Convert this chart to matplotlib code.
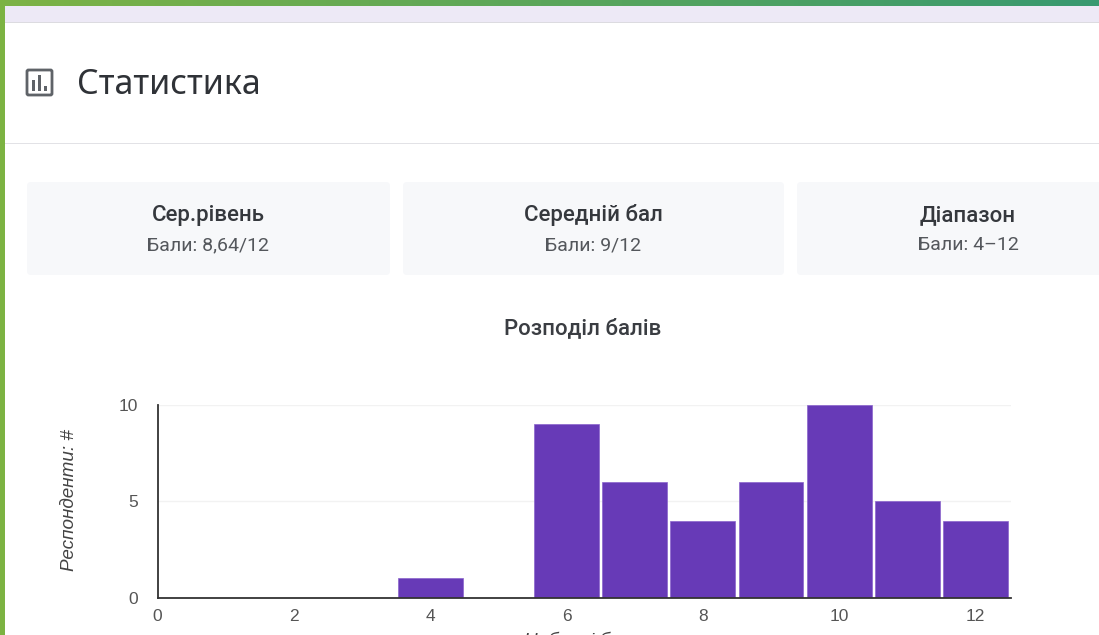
import matplotlib
matplotlib.use("Agg")
import matplotlib.pyplot as plt
from matplotlib.patches import FancyBboxPatch, Rectangle
import numpy as np

W, H = 1099, 635
scores = [4, 6, 7, 8, 9, 10, 11, 12]
counts = [1, 9, 6, 4, 6, 10, 5, 4]
x_ticks = [0, 2, 4, 6, 8, 10, 12]
y_ticks = [0, 5, 10]
page_title = "Статистика"
card_titles = ["Сер.рівень", "Середній бал", "Діапазон"]
card_values = ["Бали: 8,64/12", "Бали: 9/12", "Бали: 4–12"]
chart_title = "Розподіл балів"
y_label = "Респонденти: #"
x_label = "Набрані бали"

fig = plt.figure(figsize=(W/100, H/100), dpi=100, facecolor="white")
bg = fig.add_axes([0, 0, 1, 1])
bg.set_xlim(0, W); bg.set_ylim(H, 0); bg.axis("off")

# top gradient band and left border
grad = np.linspace(0, 1, 256)[None, :, None]
c0 = np.array([0.49, 0.70, 0.27]); c1 = np.array([0.22, 0.60, 0.44])
bg.imshow(c0 + (c1 - c0) * grad, extent=[0, W, 6, 0], aspect="auto", zorder=2)
bg.set_xlim(0, W); bg.set_ylim(H, 0)
bg.add_patch(Rectangle((0, 0), 5, H, color="#7cb342", lw=0, zorder=3))
bg.add_patch(Rectangle((5, 6), W, 16, color="#ede9f6", lw=0, zorder=1))
bg.add_patch(Rectangle((5, 22), W, 1.2, color="#dcdbe0", lw=0, zorder=1))
bg.add_patch(Rectangle((5, 143), W, 1.2, color="#e2e2e6", lw=0, zorder=1))

# icon
bg.add_patch(FancyBboxPatch((27, 70), 25, 25, boxstyle="round,pad=0,rounding_size=1.5",
                            fc="none", ec="#5f6368", lw=2.0, zorder=3))
for ix, top in [(33.5, 80), (39.5, 75), (45.5, 86)]:
    bg.add_patch(Rectangle((ix - 1.3, top), 2.6, 90.5 - top, color="#5f6368", lw=0, zorder=3))

bg.text(77, 85, page_title, fontsize=24.5, family="Noto Sans", color="#2f3237", va="center", ha="left")

# cards
cards = [(27, 390), (403, 784), (797, 1120)]
centers = [208, 593, 968]
for (a, b), c, t, v in zip(cards, centers, card_titles, card_values):
    bg.add_patch(FancyBboxPatch((a, 182), b - a, 93, boxstyle="round,pad=0,rounding_size=4",
                                fc="#f7f8fa", ec="none", zorder=1, clip_on=True))
    bg.text(c, 215.5, t, fontsize=16, family="Roboto", weight="medium", color="#35383d", ha="center", va="center")
    bg.text(c, 245.5, v, fontsize=14, family="Roboto", color="#54575c", ha="center", va="center")

bg.text(583, 329, chart_title, fontsize=16, family="Roboto", weight="medium", color="#3a3d42", ha="center", va="center")

# chart
L, R, T, B = 157.5, 1010.5, 405, 597.5
ax = fig.add_axes([L/W, 1 - B/H, (R - L)/W, (B - T)/H], facecolor="none")
ax.set_xlim(0, (R - L) / 68.17)
ax.set_ylim(0, 10)
ax.bar(scores, counts, width=0.95, color="#673ab7", edgecolor="#8a63cc", linewidth=0.5, zorder=3)
ax.set_xticks(x_ticks)
ax.set_yticks(y_ticks)
ax.yaxis.grid(True, color="#f2f2f2", lw=1, zorder=0)
ax.set_axisbelow(True)
for s in ["top", "right"]:
    ax.spines[s].set_visible(False)
for s in ["left", "bottom"]:
    ax.spines[s].set_color("#333333")
    ax.spines[s].set_linewidth(1.3)
    ax.spines[s].set_zorder(5)
ax.tick_params(length=0, pad=8, labelsize=12.5, labelcolor="#555555")
ax.tick_params(axis="y", pad=14)
for lab in ax.get_xticklabels() + ax.get_yticklabels():
    lab.set_family("Liberation Sans")

bg.text(69, 500, y_label, fontsize=13.6, family="Liberation Sans", style="italic", color="#444444",
        rotation=90, ha="center", va="center")
bg.text(583, 641, x_label, fontsize=13.6, family="Liberation Sans", style="italic", color="#444444",
        ha="center", va="center", clip_on=True)

fig.savefig("out.png", dpi=100, facecolor="white")
